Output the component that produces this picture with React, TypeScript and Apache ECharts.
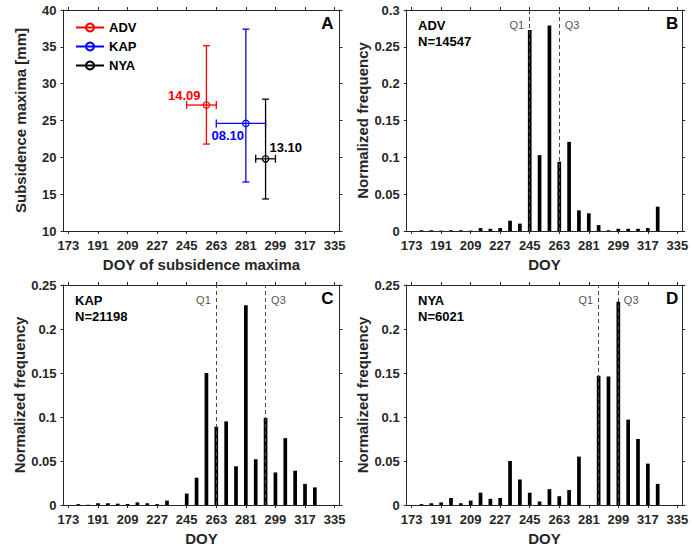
import React, { useEffect, useRef } from "react";
import * as echarts from "echarts";

// ---------- data ----------
const stations = ["ADV", "KAP", "NYA"];
const stationColors = ["#ff0000", "#0000ff", "#000000"];
const medianDoy = [257, 281, 293];
const medianSub = [27.1, 24.6, 19.8];
const subLow = [21.8, 16.65, 14.35];
const subHigh = [35.15, 37.4, 27.9];
const q1Doy = [245, 263, 287];
const q3Doy = [263, 293, 299];
const dateLabels = ["14.09", "08.10", "13.10"];
const counts = [14547, 21198, 6021];

const doyBins = [179, 185, 191, 197, 203, 209, 215, 221, 227, 233, 239, 245, 251, 257, 263, 269, 275, 281, 287, 293, 299, 305, 311, 317, 323];
const advFreq = [0.001, 0.001, 0.0005, 0.001, 0.001, 0.0005, 0.004, 0.003, 0.004, 0.014, 0.01, 0.273, 0.103, 0.279, 0.094, 0.121, 0.028, 0.024, 0.008, 0.001, 0.003, 0.003, 0.003, 0.004, 0.033];
const kapFreq = [0.001, 0.0003, 0.002, 0.002, 0.0015, 0.001, 0.003, 0.002, 0.001, 0.005, 0, 0.013, 0.031, 0.15, 0.089, 0.095, 0.044, 0.227, 0.052, 0.099, 0.037, 0.076, 0.039, 0.024, 0.02];
const nyaFreq = [0.001, 0.002, 0.003, 0.008, 0.002, 0.005, 0.014, 0.007, 0.008, 0.05, 0.029, 0.014, 0.004, 0.018, 0.01, 0.017, 0.055, 0, 0.147, 0.146, 0.231, 0.097, 0.075, 0.047, 0.024];
const histFreqs = [advFreq, kapFreq, nyaFreq];
const histYMax = [0.3, 0.25, 0.25];

const xTicks = [173, 191, 209, 227, 245, 263, 281, 299, 317, 335];
const xMin = 170;
const xMax = 338;

const FONT = "'Liberation Sans', Arial, Helvetica, sans-serif";
const AX = "#262626";

export default function App() {
  const ref = useRef<HTMLDivElement>(null);
  useEffect(() => {
    if (!ref.current) return;
    const chart = echarts.init(ref.current, null, { renderer: "svg" });

    const grids = [
      { left: 63.5, top: 10, width: 276, height: 221 },
      { left: 406.7, top: 10, width: 275.6, height: 221 },
      { left: 63.5, top: 285, width: 276, height: 220 },
      { left: 406.7, top: 285, width: 275.6, height: 220 },
    ];

    const xAxes: any[] = [];
    const yAxes: any[] = [];
    const xNames = ["DOY of subsidence maxima", "DOY", "DOY", "DOY"];
    const yNames = ["Subsidence maxima [mm]", "Normalized frequency", "Normalized frequency", "Normalized frequency"];
    const yRanges = [
      [10, 40, 5],
      [0, histYMax[0], 0.05],
      [0, histYMax[1], 0.05],
      [0, histYMax[2], 0.05],
    ];
    for (let g = 0; g < 4; g++) {
      xAxes.push({
        type: "value", gridIndex: g, position: "bottom", min: xMin, max: xMax,
        name: xNames[g], nameLocation: "middle", nameGap: 26,
        nameTextStyle: { fontSize: 15, fontWeight: "bold", color: AX, fontFamily: FONT },
        axisLine: { onZero: false, lineStyle: { color: AX, width: 1 } },
        axisTick: { inside: false, length: 3, customValues: xTicks, lineStyle: { color: AX } },
        axisLabel: { customValues: xTicks, margin: 8, fontSize: 13, fontWeight: "bold", color: AX, fontFamily: FONT },
        splitLine: { show: false },
      });
      xAxes.push({
        type: "value", gridIndex: g, position: "top", min: xMin, max: xMax,
        axisLine: { onZero: false, lineStyle: { color: AX, width: 1 } },
        axisTick: { inside: false, length: 3, customValues: xTicks, lineStyle: { color: AX } },
        axisLabel: { show: false },
        splitLine: { show: false },
      });
      const [mn, mx, iv] = yRanges[g];
      yAxes.push({
        type: "value", gridIndex: g, position: "left", min: mn, max: mx, interval: iv,
        name: yNames[g], nameLocation: "middle", nameGap: 36,
        nameTextStyle: { fontSize: 15, fontWeight: "bold", color: AX, fontFamily: FONT },
        axisLine: { show: true, onZero: false, lineStyle: { color: AX, width: 1 } },
        axisTick: { show: true, inside: false, length: 3, lineStyle: { color: AX } },
        axisLabel: { margin: 7, fontSize: 13, fontWeight: "bold", color: AX, fontFamily: FONT },
        splitLine: { show: false },
      });
      yAxes.push({
        type: "value", gridIndex: g, position: "right", min: mn, max: mx, interval: iv,
        axisLine: { show: true, onZero: false, lineStyle: { color: AX, width: 1 } },
        axisTick: { show: true, inside: false, length: 3, lineStyle: { color: AX } },
        axisLabel: { show: false },
        splitLine: { show: false },
      });
    }

    const series: any[] = [];
    // Panel A: error bars
    stations.forEach((s, i) => {
      const col = stationColors[i];
      series.push({
        type: "custom",
        name: s + " range",
        xAxisIndex: 0, yAxisIndex: 0,
        encode: { x: [0, 2, 3], y: [1, 4, 5] },
        data: [[medianDoy[i], medianSub[i], q1Doy[i], q3Doy[i], subLow[i], subHigh[i]]],
        renderItem: (params: any, api: any) => {
          const x = api.value(0), y = api.value(1);
          const c = api.coord([x, y]);
          const xl = api.coord([api.value(2), y])[0];
          const xh = api.coord([api.value(3), y])[0];
          const yl = api.coord([x, api.value(4)])[1];
          const yh = api.coord([x, api.value(5)])[1];
          const st = { stroke: col, lineWidth: 1.3 };
          const hc = 4, vc = 3.5;
          return {
            type: "group",
            children: [
              { type: "line", shape: { x1: xl, y1: c[1], x2: xh, y2: c[1] }, style: st },
              { type: "line", shape: { x1: xl, y1: c[1] - hc, x2: xl, y2: c[1] + hc }, style: st },
              { type: "line", shape: { x1: xh, y1: c[1] - hc, x2: xh, y2: c[1] + hc }, style: st },
              { type: "line", shape: { x1: c[0], y1: yl, x2: c[0], y2: yh }, style: st },
              { type: "line", shape: { x1: c[0] - vc, y1: yl, x2: c[0] + vc, y2: yl }, style: st },
              { type: "line", shape: { x1: c[0] - vc, y1: yh, x2: c[0] + vc, y2: yh }, style: st },
            ],
          };
        },
      });
    });
    const labelPos: any[] = [
      { position: "left", distance: 2, offset: [0, -10] },
      { position: "left", distance: -2, offset: [0, 12] },
      { position: "right", distance: 0, offset: [0, -11] },
    ];
    stations.forEach((s, i) => {
      const col = stationColors[i];
      series.push({
        type: "line",
        name: s,
        xAxisIndex: 0, yAxisIndex: 0,
        data: [[medianDoy[i], medianSub[i]]],
        symbol: "circle",
        symbolSize: 6.5,
        itemStyle: { color: "rgba(255,255,255,0)", borderColor: col, borderWidth: 1.2 },
        lineStyle: { color: col, width: 1.3 },
        label: {
          show: true,
          formatter: dateLabels[i],
          color: col,
          fontSize: 13,
          fontWeight: "bold",
          fontFamily: FONT,
          ...labelPos[i],
        },
        z: 5,
      });
    });

    // Panels B, C, D
    const qLabel = { fontSize: 11, color: "#222", fontFamily: FONT, distance: 5 };
    for (let h = 0; h < 3; h++) {
      const xi = 2 * (h + 1);
      const yi = 2 * (h + 1);
      series.push({
        type: "bar",
        name: stations[h] + " hist",
        xAxisIndex: xi, yAxisIndex: yi,
        data: doyBins.map((d, k) => [d, histFreqs[h][k]]),
        barWidth: 3.7,
        itemStyle: { color: "#000" },
        markLine: {
          silent: true,
          symbol: ["none", "none"],
          label: { show: false },
          lineStyle: { type: [4, 3], color: "#4a4a4a", width: 1 },
          data: [{ xAxis: q1Doy[h] }, { xAxis: q3Doy[h] }],
        },
      });
      const yq = histYMax[h] * 0.93;
      series.push({
        type: "scatter",
        name: stations[h] + " quartiles",
        xAxisIndex: xi, yAxisIndex: yi,
        symbolSize: 1,
        itemStyle: { color: "rgba(0,0,0,0)" },
        label: { show: true, ...qLabel },
        data: [
          { value: [q1Doy[h], yq], label: { show: true, ...qLabel, position: "left", formatter: "Q1" } },
          { value: [q3Doy[h], yq], label: { show: true, ...qLabel, position: "right", formatter: "Q3" } },
        ],
      });
    }

    const letterStyle = { fontSize: 17, fontWeight: "bold", color: "#000", fontFamily: FONT };
    const infoStyle = { fontSize: 13, fontWeight: "bold", color: "#000", fontFamily: FONT, lineHeight: 16 };
    const title: any[] = [
      { text: "A", right: 358.5, top: 15, padding: 0, textStyle: letterStyle },
      { text: "B", right: 13.7, top: 15, padding: 0, textStyle: letterStyle },
      { text: "C", right: 358.5, top: 290, padding: 0, textStyle: letterStyle },
      { text: "D", right: 13.7, top: 290, padding: 0, textStyle: letterStyle },
      { text: stations[0] + "\nN=" + counts[0], left: 418, top: 17, padding: 0, textStyle: infoStyle },
      { text: stations[1] + "\nN=" + counts[1], left: 75, top: 292, padding: 0, textStyle: infoStyle },
      { text: stations[2] + "\nN=" + counts[2], left: 418, top: 292, padding: 0, textStyle: infoStyle },
    ];

    chart.setOption({
      animation: false,
      backgroundColor: "#fff",
      textStyle: { fontFamily: FONT },
      title,
      legend: {
        data: stations,
        orient: "vertical",
        left: 75,
        top: 21,
        padding: 0,
        itemWidth: 28,
        itemHeight: 10,
        itemGap: 6,
        textStyle: { fontSize: 13, fontWeight: "bold", color: "#000", fontFamily: FONT },
      },
      grid: grids,
      xAxis: xAxes,
      yAxis: yAxes,
      series,
    });
    return () => chart.dispose();
  }, []);
  return (
    <div
      ref={ref}
      style={{ position: "fixed", left: 0, top: 0, width: 692, height: 548, background: "#fff" }}
    />
  );
}
